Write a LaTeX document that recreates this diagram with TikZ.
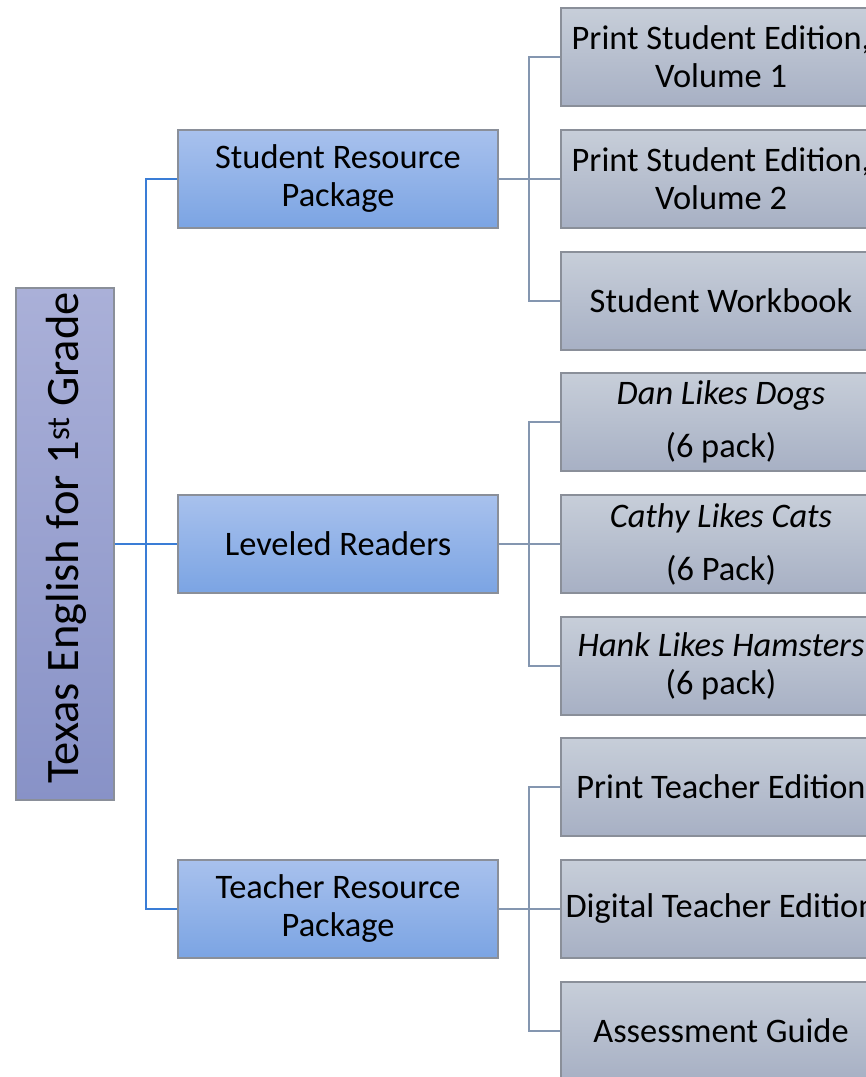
\documentclass[tikz,border=0pt]{standalone}
\usepackage{fontspec}
\setmainfont{Carlito}
\definecolor{rootT}{HTML}{AAB0D8}
\definecolor{rootB}{HTML}{8892C7}
\definecolor{midT}{HTML}{A8C1ED}
\definecolor{midB}{HTML}{7BA4E3}
\definecolor{leafT}{HTML}{C7CED9}
\definecolor{leafB}{HTML}{A7B0C4}
\definecolor{edgegrey}{HTML}{8A8F99}
\definecolor{blueline}{HTML}{3A7DD6}
\definecolor{greyline}{HTML}{8496B0}
\begin{document}
\begin{tikzpicture}[x=1pt,y=-1pt,
  every node/.style={font=\fontsize{34.4}{38}\selectfont, align=center, inner sep=0pt, text=black},
  rootbox/.style={draw=edgegrey, line width=1.2pt, top color=rootT, bottom color=rootB, minimum width=98pt, minimum height=512pt},
  midbox/.style={draw=edgegrey, line width=1.2pt, top color=midT, bottom color=midB, minimum width=320pt, minimum height=98pt},
  leafbox/.style={draw=edgegrey, line width=1.2pt, top color=leafT, bottom color=leafB, minimum width=320pt, minimum height=98pt},
  bconn/.style={draw=blueline, line width=2.2pt},
  gconn/.style={draw=greyline, line width=2pt}]
\useasboundingbox (0,0) rectangle (866,1077);
% root
\node[rootbox] (root) at (65,544) {};
\node[rotate=90, font=\fontsize{46.5}{50}\selectfont] (roottxt) at (66,538) {Texas English for 1\textsuperscript{st} Grade};
% level 2
\node[midbox] (srp) at (338,179) {Student Resource\\Package};
\node[midbox] (lr) at (338,544) {Leveled Readers};
\node[midbox] (trp) at (338,909) {Teacher Resource\\Package};
% level 3
\node[leafbox] (l1) at (721,57) {Print Student Edition,\\Volume 1};
\node[leafbox] (l2) at (721,179) {Print Student Edition,\\Volume 2};
\node[leafbox] (l3) at (721,301) {Student Workbook};
\node[leafbox] (l4) at (721,422) {\textit{Dan Likes Dogs}\\[15pt](6 pack)};
\node[leafbox] (l5) at (721,544) {\textit{Cathy Likes Cats}\\[15pt](6 Pack)};
\node[leafbox] (l6) at (721,666) {\textit{Hank Likes Hamsters}\\(6 pack)};
\node[leafbox] (l7) at (721,787) {Print Teacher Edition};
\node[leafbox] (l8) at (721,909) {Digital Teacher Edition};
\node[leafbox] (l9) at (721,1031) {Assessment Guide};
% connectors
\coordinate (bus) at (146,544);
\draw[bconn] (root.east) -- (bus);
\draw[bconn] (bus) |- (srp.west);
\draw[bconn] (bus) |- (trp.west);
\draw[bconn] (bus) -- (lr.west);
\coordinate (b1) at (529,179);
\coordinate (b2) at (529,544);
\coordinate (b3) at (529,909);
\draw[gconn] (srp.east) -- (b1);
\draw[gconn] (b1) |- (l1.west);
\draw[gconn] (b1) |- (l3.west);
\draw[gconn] (b1) -- (l2.west);
\draw[gconn] (lr.east) -- (b2);
\draw[gconn] (b2) |- (l4.west);
\draw[gconn] (b2) |- (l6.west);
\draw[gconn] (b2) -- (l5.west);
\draw[gconn] (trp.east) -- (b3);
\draw[gconn] (b3) |- (l7.west);
\draw[gconn] (b3) |- (l9.west);
\draw[gconn] (b3) -- (l8.west);
\end{tikzpicture}
\end{document}
